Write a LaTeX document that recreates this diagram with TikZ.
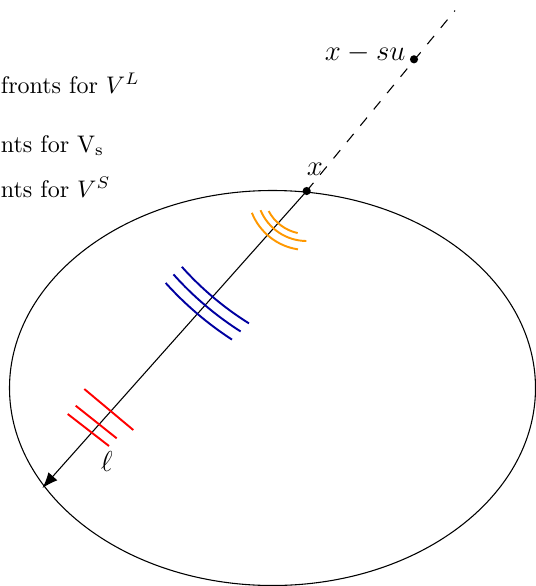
\documentclass[tikz,border=0pt]{standalone}
\usetikzlibrary{arrows.meta,calc}
\definecolor{wforange}{RGB}{255,152,0}
\definecolor{wfblue}{RGB}{0,0,160}
\definecolor{wfred}{RGB}{255,0,0}
\begin{document}
\begin{tikzpicture}[x=0.41667pt,y=-0.41667pt,
  dot/.style={circle,fill=black,inner sep=0pt,minimum size=3.4pt},
  thinline/.style={line width=0.45pt},
  wave/.style={line width=0.8pt},
  lbl/.style={inner sep=0pt,font=\large},
  txt/.style={inner sep=0pt,anchor=base west}]
\useasboundingbox (0,0) rectangle (535,586);
% domain boundary
\draw[thinline] (272.5,388) ellipse [x radius=263, y radius=197.5];
% points
\coordinate (far) at (455,10.5);
\coordinate (tip) at (42.5,488);
\node[dot] (x) at (306.7,191) {};
\node[dot] (xsu) at (414,59.3) {};
% lines
\draw[thinline,dash pattern=on 4.4pt off 4.4pt] (x.center) -- (far);
\draw[thinline,-{Latex[length=6.5pt,width=5pt]}] (x.center) -- (tip);
% orange wavefronts (centred at x)
\draw[wave,wforange] ($(x.center)+(102.1:43)$) arc[start angle=102.1,end angle=152.2,radius=43];
\draw[wave,wforange] ($(x.center)+(90.3:50)$) arc[start angle=90.3,end angle=157.4,radius=50];
\draw[wave,wforange] ($(x.center)+(98.5:59)$) arc[start angle=98.5,end angle=158.3,radius=59];
% blue wavefronts (centred at x-su)
\draw[wave,wfblue] ($(xsu.center)+(122.0:311.4)$) arc[start angle=122.0,end angle=138.2,radius=311.4];
\draw[wave,wfblue] ($(xsu.center)+(122.5:322.7)$) arc[start angle=122.5,end angle=138.2,radius=322.7];
\draw[wave,wfblue] ($(xsu.center)+(123.0:334.2)$) arc[start angle=123.0,end angle=138.0,radius=334.2];
% red plane wavefronts
\draw[wave,wfred] (84.3,389) -- (133.3,430);
\draw[wave,wfred] (75.7,405.7) -- (116.7,438.3);
\draw[wave,wfred] (67.7,414) -- (109,446);
% labels
\node[lbl,anchor=base east] (lxsu) at (406,60) {$x-su$};
\node[lbl,anchor=base] (lx) at (315,175) {$x$};
\node[lbl,anchor=base] (lell) at (106.7,471) {$\ell$};
% legend texts
\node[txt] (t1) at (0.5,93) {fronts for $V^L$};
\node[txt] (t2) at (0.5,152) {nts for V$_\mathrm{s}$};
\node[txt] (t3) at (0.5,197) {nts for $V^S$};
\end{tikzpicture}
\end{document}
